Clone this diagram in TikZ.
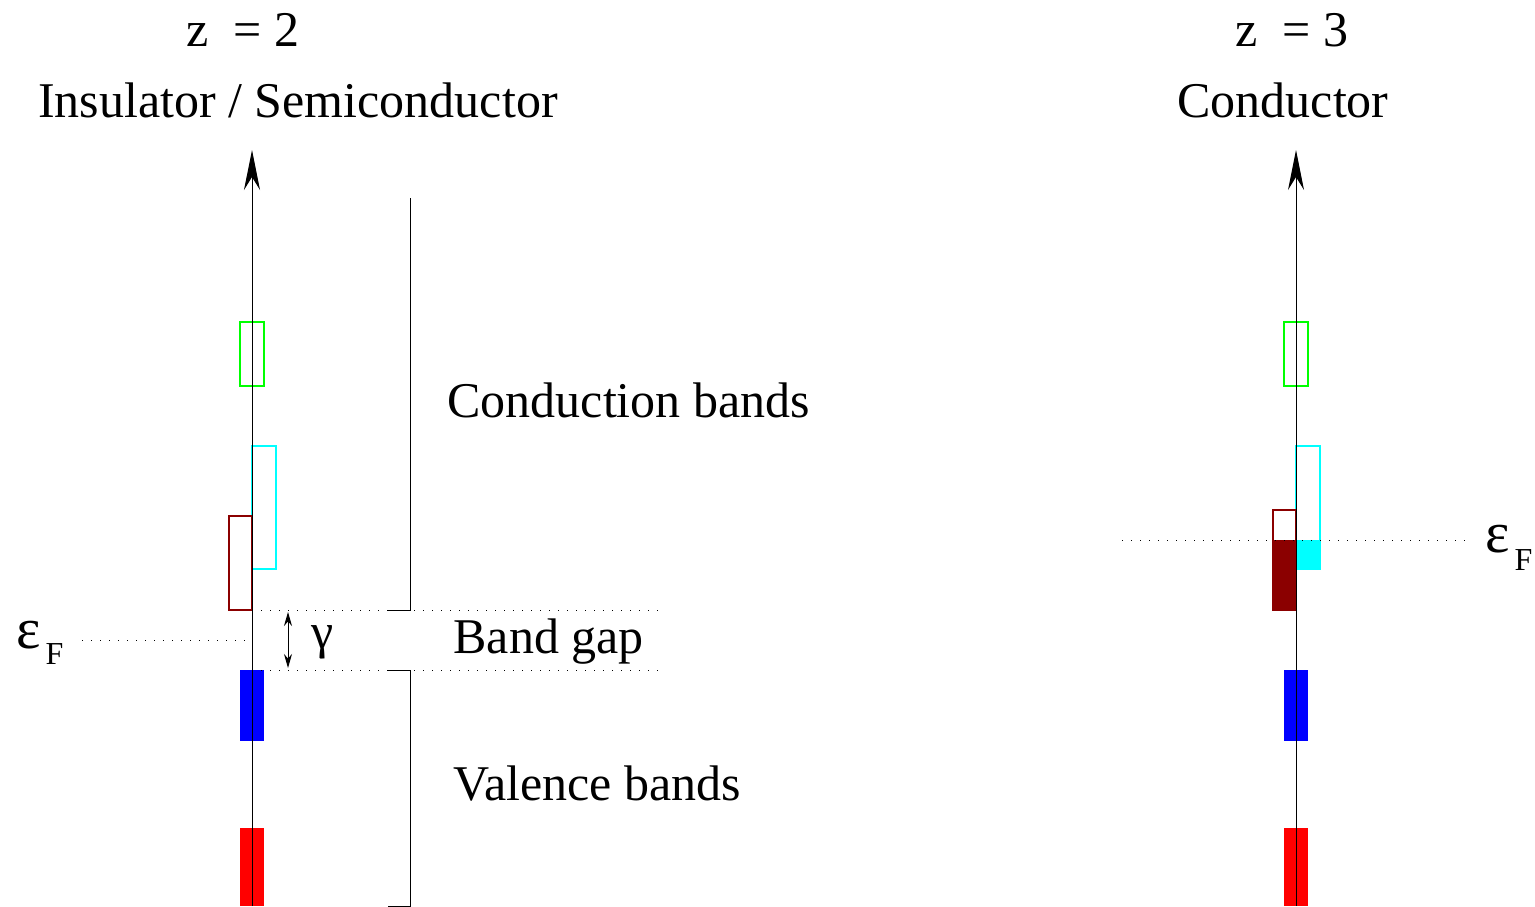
\documentclass[tikz,border=0pt]{standalone}
\usepackage{fontspec}
\setmainfont{Liberation Serif}
\usetikzlibrary{arrows.meta}
\definecolor{bandcyan}{RGB}{0,255,255}
\definecolor{bandred}{RGB}{139,0,0}

\begin{document}
\begin{tikzpicture}[x=0.5pt, y=-0.5pt, line width=0.5pt,
    lbl/.style = {font=\fontsize{25}{30}\selectfont, inner sep=0pt},
    eps/.style = {font=\fontsize{29}{34}\selectfont, inner sep=0pt},
    sub/.style = {font=\fontsize{16}{19}\selectfont, inner sep=0pt},
    axis/.style = {-{Stealth[length=20pt, width=8pt]}},
    band/.style = {line width=0.8pt},
    level/.style = {dash pattern=on 0.6pt off 3.9pt}]
    \useasboundingbox (0,0) rectangle (1535,906);
    % axes
    \coordinate (a0) at (252,906); \coordinate (a1) at (252,150);
    \coordinate (b0) at (1296,906); \coordinate (b1) at (1296,150);
    % titles
    \node[lbl, anchor=base] (z2) at (243,46) {z \ = 2};
    \node[lbl, anchor=base] (ins) at (298,117) {Insulator / Semiconductor};
    \node[lbl, anchor=base] (z3) at (1292,46) {z \ = 3};
    \node[lbl, anchor=base] (con) at (1283,117) {Conductor};
    % insulator bands
    \draw[band, green] (240,322) rectangle (264,386);
    \draw[band, bandcyan] (252,446) rectangle (276,569);
    \draw[band, bandred] (229,516) rectangle (252,610);
    \fill[blue] (240,670) rectangle (264,741);
    \fill[red] (240,828) rectangle (264,906);
    \draw[axis] (a0) -- (a1);
    % gap and fermi level
    \coordinate (g0) at (252,610); \coordinate (g1) at (252,670);
    \draw[level] (g0) -- (658,610);
    \draw[level] (g1) -- (658,670);
    \draw[level] (82,640) -- (252,640);
    \draw[{Stealth[length=7pt, width=4pt]}-{Stealth[length=7pt, width=4pt]}] (288,612) -- (288,668);
    \node[lbl, anchor=base] (gam) at (323,648) {γ};
    \node[eps, anchor=base west] (efl) at (16,648) {ε};
    \node[sub, anchor=base west] (efls) at (45,664) {F};
    % brackets
    \draw (410,198) -- (410,610) -- (388,610);
    \draw (388,670) -- (410,670) -- (410,906) -- (388,906);
    \node[lbl, anchor=base west] (cb) at (447,417) {Conduction bands};
    \node[lbl, anchor=base west] (bg) at (453,653) {Band gap};
    \node[lbl, anchor=base west] (vb) at (453,800) {Valence bands};
    % conductor bands
    \draw[band, green] (1284,322) rectangle (1308,386);
    \fill[bandcyan] (1296,540) rectangle (1320,569);
    \draw[band, bandcyan] (1296,446) rectangle (1320,569);
    \fill[bandred] (1273,540) rectangle (1296,610);
    \draw[band, bandred] (1273,510) rectangle (1296,610);
    \fill[blue] (1284,670) rectangle (1308,741);
    \fill[red] (1284,828) rectangle (1308,906);
    \draw[axis] (b0) -- (b1);
    \draw[level] (1122,540) -- (1468,540);
    \node[eps, anchor=base west] (efr) at (1485,552) {ε};
    \node[sub, anchor=base west] (efrs) at (1514,570) {F};
\end{tikzpicture}
\end{document}
